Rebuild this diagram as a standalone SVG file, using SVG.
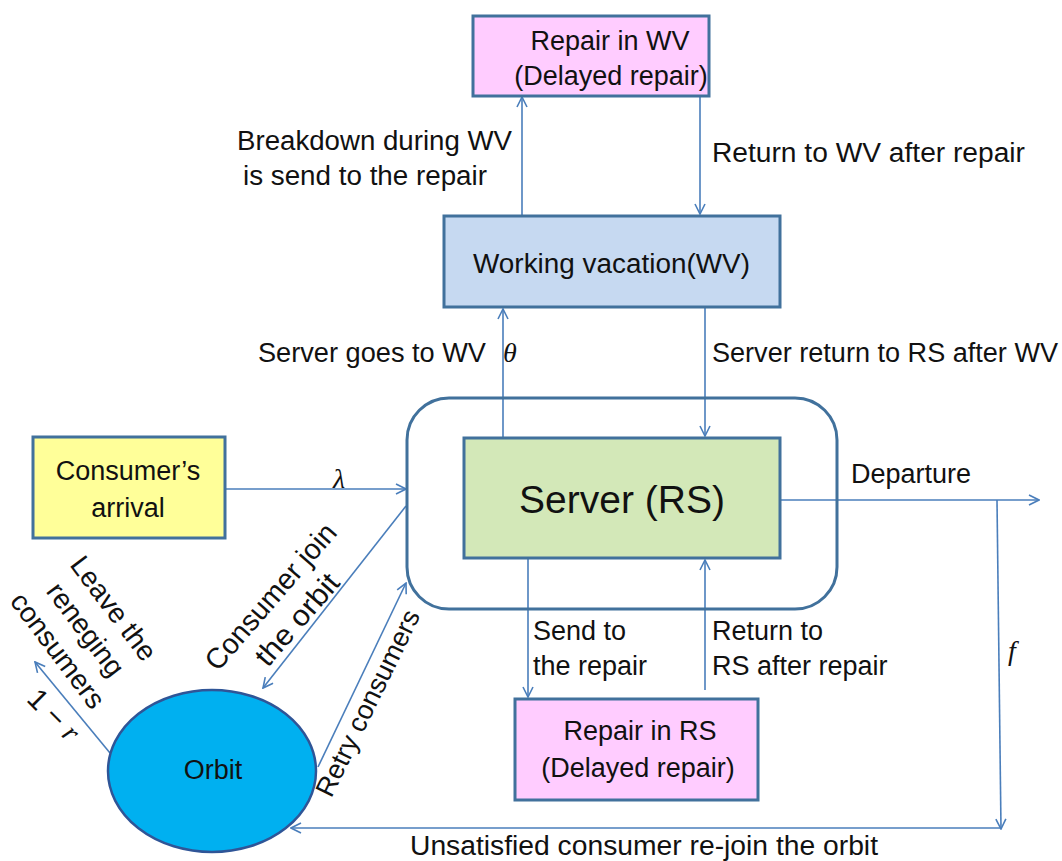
<svg xmlns="http://www.w3.org/2000/svg" width="1062" height="861" viewBox="0 0 1062 861">
<defs>
<marker id="arr" viewBox="0 0 12 12" refX="11" refY="6" markerWidth="12" markerHeight="12" markerUnits="userSpaceOnUse" orient="auto">
<path d="M1,1 L11,6 L1,11" fill="none" stroke="#4A7EBB" stroke-width="1.6"/>
</marker>
<style>
.box{stroke:#41719C;stroke-width:3}
.t{font-family:"Liberation Sans",Arial,sans-serif;font-size:27px;fill:#111}
.c{text-anchor:middle}
.m{font-family:"Liberation Serif","Times New Roman",serif;font-style:italic;font-size:28px;fill:#111}
.ln{stroke:#4A7EBB;stroke-width:1.6;fill:none}
</style>
</defs>
<rect width="1062" height="861" fill="#fff"/>

<g id="connectors">
<line class="ln" x1="522" y1="215" x2="522" y2="97" marker-end="url(#arr)"/>
<line class="ln" x1="700" y1="96" x2="700" y2="214" marker-end="url(#arr)"/>
<line class="ln" x1="503" y1="437" x2="503" y2="309" marker-end="url(#arr)"/>
<line class="ln" x1="705" y1="308" x2="705" y2="436" marker-end="url(#arr)"/>
<line class="ln" x1="226" y1="489" x2="406" y2="489" marker-end="url(#arr)"/>
<line class="ln" x1="780" y1="500" x2="1039" y2="500" marker-end="url(#arr)"/>
<line class="ln" x1="997" y1="500" x2="1001" y2="829" marker-end="url(#arr)"/>
<line class="ln" x1="1000" y1="828" x2="291" y2="828" marker-end="url(#arr)"/>
<line class="ln" x1="528" y1="559" x2="528" y2="697" marker-end="url(#arr)"/>
<line class="ln" x1="705" y1="690" x2="705" y2="560" marker-end="url(#arr)"/>
<line class="ln" x1="406" y1="506" x2="263" y2="688" marker-end="url(#arr)"/>
<line class="ln" x1="318" y1="767" x2="406" y2="583" marker-end="url(#arr)"/>
<line class="ln" x1="110" y1="753" x2="35" y2="662" marker-end="url(#arr)"/>
</g>

<g id="repair-wv">
<rect class="box" x="473" y="16" width="236" height="80" fill="#FFCCFF"/>
<text class="t c" x="610" y="50">Repair in WV</text>
<text class="t c" x="611" y="85">(Delayed repair)</text>
</g>

<g id="working-vacation">
<rect class="box" x="444" y="216" width="336" height="91" fill="#C6D9F1"/>
<text class="t" x="473" y="273" textLength="277" lengthAdjust="spacingAndGlyphs">Working vacation(WV)</text>
</g>

<g id="system">
<rect class="box" x="407" y="398" width="430" height="211" rx="42" fill="none"/>
</g>

<g id="server">
<rect class="box" x="464" y="438" width="316" height="120" fill="#D3E8B8"/>
<text class="t c" x="622" y="513" style="font-size:39px">Server (RS)</text>
</g>

<g id="arrival">
<rect class="box" x="33" y="437" width="192" height="101" fill="#FFFF99"/>
<text class="t c" x="128" y="480">Consumer’s</text>
<text class="t c" x="128" y="517">arrival</text>
</g>

<g id="repair-rs">
<rect class="box" x="515" y="699" width="243" height="101" fill="#FFCCFF"/>
<text class="t c" x="640" y="740">Repair in RS</text>
<text class="t c" x="638" y="777">(Delayed repair)</text>
</g>

<g id="orbit">
<ellipse cx="212" cy="771" rx="104" ry="81" fill="#00B0F0" stroke="#2F5597" stroke-width="2.5"/>
<text class="t c" x="213" y="779">Orbit</text>
</g>

<g id="labels">
<text class="t" x="237" y="150" textLength="275" lengthAdjust="spacingAndGlyphs">Breakdown during WV</text>
<text class="t" x="243" y="185" textLength="244" lengthAdjust="spacingAndGlyphs">is send to the repair</text>
<text class="t" x="712" y="162" textLength="313" lengthAdjust="spacingAndGlyphs">Return to WV after repair</text>
<text class="t" x="258" y="362" textLength="228" lengthAdjust="spacingAndGlyphs">Server goes to WV</text>
<text class="m" x="503" y="362">θ</text>
<text class="t" x="712" y="362" textLength="346" lengthAdjust="spacingAndGlyphs">Server return to RS after WV</text>
<text class="t" x="851" y="483">Departure</text>
<text class="m" x="333" y="488">λ</text>
<text class="t" x="533" y="640">Send to</text>
<text class="t" x="533" y="675">the repair</text>
<text class="t" x="712" y="640">Return to</text>
<text class="t" x="712" y="675">RS after repair</text>
<text class="m" x="1008" y="660">f</text>
<text class="t" x="410" y="855" textLength="468" lengthAdjust="spacingAndGlyphs">Unsatisfied consumer re-join the orbit</text>
<g transform="translate(278,603) rotate(-49)">
<text class="t c" x="0" y="0" style="font-size:29px" textLength="184" lengthAdjust="spacingAndGlyphs">Consumer join</text>
<text class="t c" x="0" y="35" style="font-size:29px" textLength="112" lengthAdjust="spacingAndGlyphs">the orbit</text>
</g>
<g transform="translate(376,707) rotate(-64)">
<text class="t c" x="0" y="0">Retry consumers</text>
</g>
<g transform="translate(106,614) rotate(53)">
<text class="t c" x="0" y="0" style="font-size:28px">Leave the</text>
<text class="t c" x="0" y="35" style="font-size:28px">reneging</text>
<text class="t c" x="0" y="70" style="font-size:28px">consumers</text>
</g>
<g transform="translate(47,722) rotate(45)">
<text class="t c" x="0" y="0" style="font-size:29px">1 − <tspan font-family="Liberation Serif, serif" font-style="italic">r</tspan></text>
</g>
</g>
</svg>
